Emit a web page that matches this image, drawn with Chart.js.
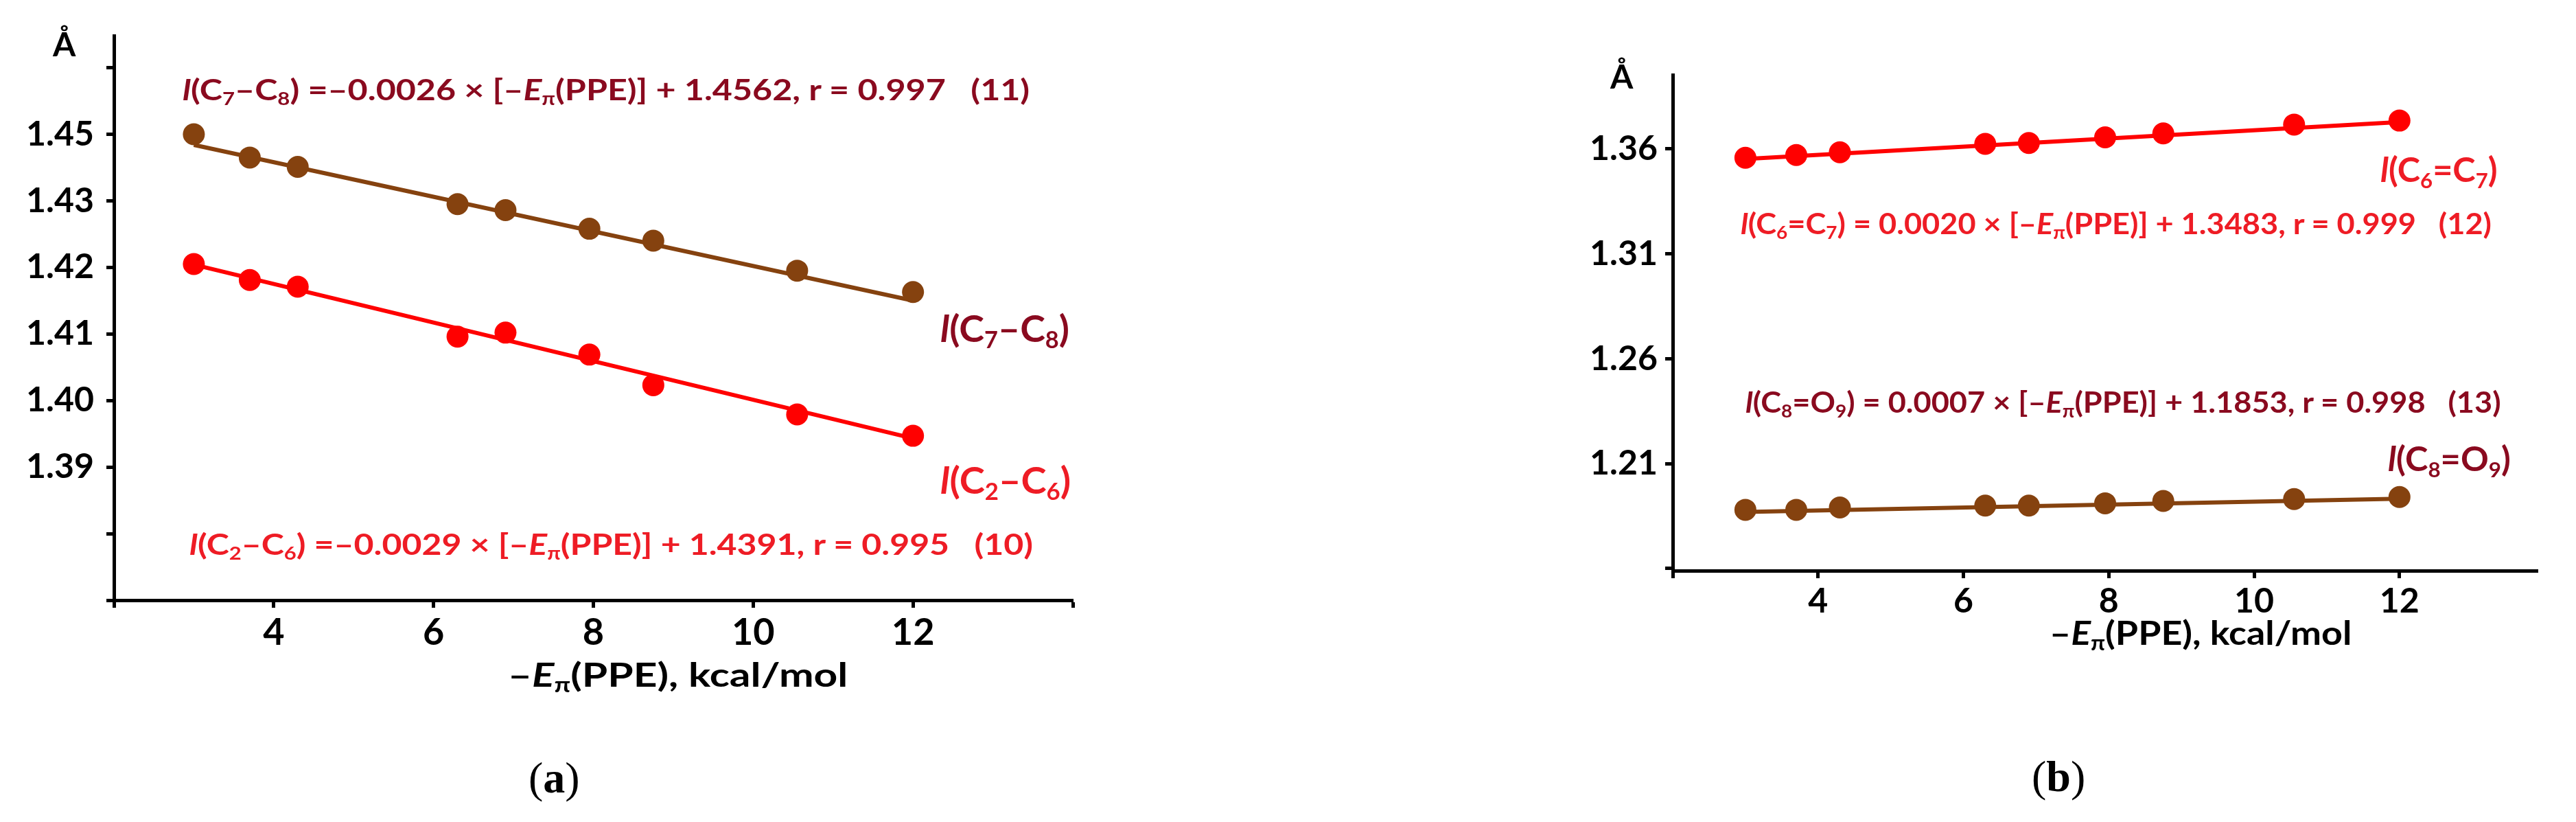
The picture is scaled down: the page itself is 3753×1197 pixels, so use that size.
<!DOCTYPE html>
<html lang="en">
  <head>
    <meta charset="UTF-8" />
    <title>Bond lengths vs -Eπ(PPE)</title>
    <script src="https://cdn.jsdelivr.net/npm/chart.js"></script>
    <style>
      body {
        margin: 0;
        width: 3753px;
        height: 1197px;
        position: relative;
        overflow: hidden;
        background: #fff;
        font-family: Lato, "Open Sans", sans-serif;
      }
      canvas {
        position: absolute;
      }
      #chartA { left: 0; top: 0; }
      #chartB { left: 2200px; top: 0; }
      .note {
        position: absolute;
        white-space: nowrap;
        font-weight: bold;
        line-height: 1;
        transform-origin: 0 0;
      }
      .note sub {
        font-size: 62%;
        vertical-align: -0.28em;
        line-height: 0;
      }
      .dark { color: #8a0a1f; }
      .red { color: #ee1c25; }
      .axt { color: #000; }
      .cap {
        position: absolute;
        font-family: "Liberation Serif", serif;
        font-size: 64px;
        line-height: 1;
      }
    </style>
  </head>
  <body>
    <canvas id="chartA" width="1700" height="960"></canvas>
    <canvas id="chartB" width="1553" height="960"></canvas>

    <!-- panel (a) texts; data-w is the width the text takes in the figure -->
    <div class="note axt" style="left:77px; top:40px; font-size:48px;">Å</div>
    <div class="note dark" data-w="1234" style="left:266px; top:109px; font-size:42px;"><i>l</i>(C<sub>7</sub>–C<sub>8</sub>) =–0.0026 × [–<i>E</i><sub>π</sub>(PPE)] + 1.4562, r = 0.997&nbsp;&nbsp;&nbsp;(11)</div>
    <div class="note dark" data-w="188" style="left:1370px; top:451px; font-size:54px;"><i>l</i>(C<sub>7</sub>–C<sub>8</sub>)</div>
    <div class="note red" data-w="190" style="left:1370px; top:672px; font-size:54px;"><i>l</i>(C<sub>2</sub>–C<sub>6</sub>)</div>
    <div class="note red" data-w="1229" style="left:276px; top:771px; font-size:42px;"><i>l</i>(C<sub>2</sub>–C<sub>6</sub>) =–0.0029 × [–<i>E</i><sub>π</sub>(PPE)] + 1.4391, r = 0.995&nbsp;&nbsp;&nbsp;(10)</div>
    <div class="note axt" data-w="495" style="left:740px; top:958px; font-size:48px;">–<i>E</i><sub>π</sub>(PPE), kcal/mol</div>
    <div class="cap" style="left:770px; top:1101px;">(<b>a</b>)</div>

    <!-- panel (b) texts -->
    <div class="note axt" style="left:2346px; top:87px; font-size:48px;">Å</div>
    <div class="note red" data-w="171" style="left:3468px; top:221px; font-size:50px;"><i>l</i>(C<sub>6</sub>=C<sub>7</sub>)</div>
    <div class="note red" data-w="1094" style="left:2536px; top:304px; font-size:42px;"><i>l</i>(C<sub>6</sub>=C<sub>7</sub>) = 0.0020 × [–<i>E</i><sub>π</sub>(PPE)] + 1.3483, r = 0.999&nbsp;&nbsp;&nbsp;(12)</div>
    <div class="note dark" data-w="1101" style="left:2543px; top:564px; font-size:42px;"><i>l</i>(C<sub>8</sub>=O<sub>9</sub>) = 0.0007 × [–<i>E</i><sub>π</sub>(PPE)] + 1.1853, r = 0.998&nbsp;&nbsp;&nbsp;(13)</div>
    <div class="note dark" data-w="179" style="left:3479px; top:642px; font-size:50px;"><i>l</i>(C<sub>8</sub>=O<sub>9</sub>)</div>
    <div class="note axt" data-w="440" style="left:2986px; top:897px; font-size:48px;">–<i>E</i><sub>π</sub>(PPE), kcal/mol</div>
    <div class="cap" style="left:2960px; top:1099px;">(<b>b</b>)</div>

    <script>
      // -Eπ(PPE), kcal/mol (same set of compounds in both panels)
      var eppe = [3.0, 3.7, 4.3, 6.3, 6.9, 7.95, 8.75, 10.55, 12.0];

      // bond lengths, Å
      var lenC7C8 = [1.4500, 1.4465, 1.4451, 1.4395, 1.4386, 1.4358, 1.4340, 1.4295, 1.4263];
      var lenC2C6 = [1.4305, 1.4281, 1.4271, 1.4196, 1.4202, 1.4169, 1.4123, 1.4079, 1.4047];
      var lenC6C7 = [1.3558, 1.3571, 1.3584, 1.3624, 1.3628, 1.3655, 1.3674, 1.3716, 1.3735];
      var lenC8O9 = [1.1880, 1.1880, 1.1891, 1.1900, 1.1900, 1.1911, 1.1922, 1.1931, 1.1941];

      // trend line end points
      var fitX = [3, 12];
      var fitC7C8 = [1.4484, 1.4250];
      var fitC2C6 = [1.4304, 1.4043];
      var fitC6C7 = [1.3552, 1.3728];
      var fitC8O9 = [1.1870, 1.1933];

      // axis ticks and the labels printed on them
      var xTicksA = [2, 4, 6, 8, 10, 12, 14];
      var xTickLabelsA = ["", "4", "6", "8", "10", "12", ""];
      var yTicksA = [1.38, 1.39, 1.40, 1.41, 1.42, 1.43, 1.44, 1.45, 1.46];
      var yTickLabelsA = ["", "", "1.39", "1.40", "1.41", "1.42", "1.43", "1.45", ""];

      var xTicksB = [2, 4, 6, 8, 10, 12];
      var xTickLabelsB = ["", "4", "6", "8", "10", "12"];
      var yTicksB = [1.16, 1.21, 1.26, 1.31, 1.36];
      var yTickLabelsB = ["", "1.21", "1.26", "1.31", "1.36"];

      var BROWN = "#85420f";
      var RED = "#ff0000";

      function pts(xs, ys) {
        return xs.map(function (x, i) { return { x: x, y: ys[i] }; });
      }

      function pointSet(xs, ys, color) {
        return {
          data: pts(xs, ys),
          backgroundColor: color,
          borderColor: color,
          pointRadius: 16,
          pointBorderWidth: 0,
          showLine: false,
          order: 0
        };
      }

      function lineSet(xs, ys, color) {
        return {
          data: pts(xs, ys),
          borderColor: color,
          borderWidth: 6,
          pointRadius: 0,
          showLine: true,
          order: 1
        };
      }

      function axis(opts) {
        return {
          type: "linear",
          min: opts.min,
          max: opts.max,
          border: { display: true, color: "#000", width: 5 },
          grid: {
            display: true,
            drawOnChartArea: false,
            drawTicks: true,
            tickLength: 11,
            tickWidth: 5,
            tickColor: "#000"
          },
          ticks: {
            autoSkip: false,
            maxRotation: 0,
            padding: opts.pad,
            color: "#000",
            font: { family: "Lato", weight: "bold", size: opts.fontSize },
            callback: function (v, i) { return opts.labels[i]; }
          },
          afterBuildTicks: function (scale) {
            scale.ticks = opts.ticks.map(function (v) { return { value: v }; });
          },
          afterFit: function (scale) {
            if (opts.width) scale.width = opts.width;
            if (opts.height) scale.height = opts.height;
          }
        };
      }

      function makeChart(id, datasets, xOpts, yOpts, padding) {
        return new Chart(document.getElementById(id), {
          type: "scatter",
          data: { datasets: datasets },
          options: {
            responsive: false,
            animation: false,
            layout: { padding: padding },
            plugins: { legend: { display: false }, tooltip: { enabled: false } },
            scales: { x: axis(xOpts), y: axis(yOpts) }
          }
        });
      }

      makeChart("chartA",
        [
          pointSet(eppe, lenC7C8, BROWN),
          pointSet(eppe, lenC2C6, RED),
          lineSet(fitX, fitC7C8, BROWN),
          lineSet(fitX, fitC2C6, RED)
        ],
        { min: 2, max: 14, ticks: xTicksA, labels: xTickLabelsA, fontSize: 54, pad: 4, height: 86 },
        { min: 1.38, max: 1.4648, ticks: yTicksA, labels: yTickLabelsA, fontSize: 50, pad: 18, width: 166 },
        { left: 0, top: 52, right: 137, bottom: 0 }
      );

      makeChart("chartB",
        [
          pointSet(eppe, lenC6C7, RED),
          pointSet(eppe, lenC8O9, BROWN),
          lineSet(fitX, fitC6C7, RED),
          lineSet(fitX, fitC8O9, BROWN)
        ],
        { min: 2, max: 13.9, ticks: xTicksB, labels: xTickLabelsB, fontSize: 50, pad: 4, height: 129 },
        { min: 1.159, max: 1.3953, ticks: yTicksB, labels: yTickLabelsB, fontSize: 50, pad: 11, width: 237 },
        { left: 0, top: 109, right: 56, bottom: 0 }
      );

      // the figure's lettering is stretched sideways; squeeze each note to its width
      function fitNotes() {
        document.querySelectorAll(".note[data-w]").forEach(function (el) {
          var k = Number(el.dataset.w) / el.offsetWidth;
          el.style.transform = "scaleX(" + k.toFixed(3) + ")";
        });
      }
      fitNotes();
      if (document.fonts) document.fonts.ready.then(fitNotes);
    </script>
  </body>
</html>
